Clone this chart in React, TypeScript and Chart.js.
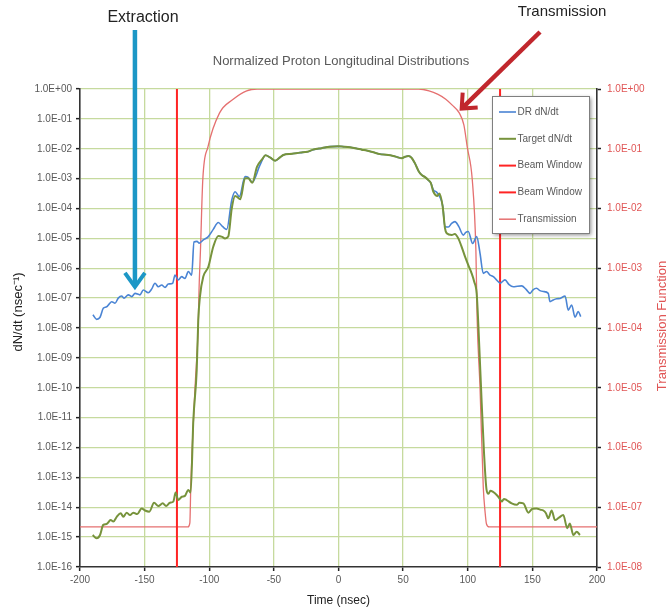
import React, { useEffect, useRef } from 'react';
import { Chart, registerables } from 'chart.js';

Chart.register(...registerables);

const FONT = '"Liberation Sans", Arial, sans-serif';

// ---------- data (series values given as log10) ----------
const drTime = [
  -190, -187.1, -184.5, -182, -179.4, -177.5, -175.5, -172.9, -170.4, -167.8, -166, -162.6, -160, -157.4,
  -153.6, -151, -147.2, -144.6, -142, -139.4, -136.8, -134.2, -131.7, -128.3, -126.5, -124, -121.3, -118.8,
  -116.2, -113.6, -111.8, -109.5, -107.7, -104.6, -100.7, -96.9, -93, -89.6, -86.5, -82.6, -80, -76.7,
  -72.3, -69.8, -66.8, -60.7, -56.5, -53, -49.1, -45, -42.7, -36, -29.8, -24, -19.5, -13, -6.6, 0, 3.7, 9,
  14, 18, 21.8, 27, 32.1, 37, 42.4, 45.5, 48.8, 51.5, 54, 56.5, 59.2, 62, 64.4, 67, 69.5, 71.5, 73.4, 75.9,
  78.5, 80.6, 82.4, 85, 87.5, 90.1, 93, 96.6, 98.5, 100.4, 103.8, 106.9, 109.5, 112, 114.6, 117, 119.8,
  122.5, 125, 128.8, 132, 135.3, 138.5, 141.7, 145, 148.2, 150.5, 153.3, 155.8, 158.5, 162.3, 163.6, 166.2,
  168.8, 171.4, 175.3, 177.8, 180.4, 183, 185.5, 187.4,
];
const drLog10 = [
  -7.56, -7.71, -7.64, -7.34, -7.29, -7.2, -7.12, -7.17, -7.0, -6.93, -7.0, -6.89, -6.95, -6.84,
  -6.89, -6.73, -6.82, -6.7, -6.5, -6.62, -6.56, -6.64, -6.53, -6.5, -6.23, -6.39, -6.28, -6.34,
  -6.11, -6.23, -5.12, -5.1, -5.16, -5.05, -4.94, -4.7, -4.47, -4.61, -4.7, -3.72, -3.44, -3.6,
  -2.93, -2.96, -3.12, -2.54, -2.22, -2.29, -2.4, -2.28, -2.21, -2.17, -2.13, -2.1, -2.03, -1.98, -1.93, -1.92, -1.93, -1.95,
  -1.99, -2.03, -2.06, -2.12, -2.18, -2.2, -2.24, -2.28, -2.32, -2.27, -2.24, -2.3, -2.49, -2.75, -2.88, -2.95, -3.05, -3.15, -3.38, -3.45,
  -3.62, -3.9, -4.6, -4.62, -4.5, -4.44, -4.6, -4.89, -4.8, -4.77, -5.17, -4.94, -5.5, -6.17, -6.11, -6.22, -6.28,
  -6.4, -6.5, -6.39, -6.55, -6.62, -6.6, -6.59, -6.7, -6.84, -6.72, -6.67, -6.75, -6.78, -6.84, -7.12, -7.06,
  -7.02, -7.01, -6.93, -7.4, -7.23, -7.64, -7.45, -7.62,
];

const targetTime = [
  -190.2, -187.1, -184.5, -182, -179.4, -176.3, -174.2, -171.6, -168.5, -166.5, -163.9, -161.3, -158.8,
  -155.7, -152.3, -149.7, -146.4, -142.7, -139.4, -136, -133.4, -130.4, -127.8, -126, -124, -121.3, -118.8,
  -116.2, -114.4, -112.3, -109.7, -108.5, -107.2, -104.6, -100.7, -96.9, -93, -90, -87.8, -85.3, -82.6,
  -80, -78.8, -76, -72.3, -69.8, -66.8, -63, -59, -56.5, -53, -49.1, -45, -42.7, -36, -29.8, -24, -19.5, -13,
  -6.6, 0, 3.7, 9, 14, 18, 21.8, 27, 32.1, 37, 42.4, 45.5, 48.8, 51.5, 54, 56.5, 59.2, 62, 64.4, 67, 69.5,
  71.5, 73.4, 76.5, 78, 80.6, 82.4, 83.7, 87.6, 90, 92.7, 95, 97.9, 100.5, 103, 105, 106.9, 108.2, 110.8,
  112.6, 114.5, 116, 117.5, 119.3, 122.4, 124.5, 126.3, 128, 130.1, 134, 137.9, 140, 143, 146.9, 150, 153.3,
  156, 158.5, 160.5, 162.3, 164.9, 167.5, 170.5, 173.9, 177, 179, 181.7, 184.3, 186.8,
];
const targetLog10 = [
  -14.93, -15.04, -14.93, -14.59, -14.56, -14.43, -14.48, -14.32, -14.2, -14.32, -14.18, -14.26, -14.18,
  -14.23, -14.04, -14.11, -14.15, -13.85, -13.96, -13.87, -13.96, -13.85, -13.81, -13.51, -13.76, -13.65, -13.62,
  -13.42, -13.51, -11.08, -9.41, -7.73, -6.95, -6.28, -5.95, -5.28, -4.92, -4.95, -5.0, -4.94, -4.0,
  -3.58, -3.6, -3.69, -2.99, -2.99, -3.14, -2.6, -2.35, -2.22, -2.29, -2.4, -2.28, -2.21, -2.17, -2.13, -2.1, -2.03, -1.98,
  -1.93, -1.92, -1.93, -1.95, -1.99, -2.03, -2.06, -2.12, -2.18, -2.2, -2.24, -2.28, -2.32, -2.27, -2.24, -2.3, -2.49, -2.75, -2.88, -2.95, -3.05,
  -3.15, -3.44, -3.58, -3.5, -3.94, -4.66, -4.83, -4.89, -4.85, -5.0, -5.25, -5.61, -5.9, -6.17, -6.45, -6.84, -7.9, -10.52,
  -12.19, -13.4, -13.55, -13.45, -13.48, -13.59, -13.7, -13.81, -13.72, -13.76, -13.87, -13.92, -13.85, -13.87, -14.18, -14.05, -14.04,
  -14.08, -14.11, -14.2, -14.37, -14.11, -14.43, -14.35, -14.26, -14.7, -14.54, -14.93, -14.82, -14.93,
];

const transmissionTime = [
  -200, -116.5, -115, -114.3, -111, -108.5, -107.9, -106.8, -105, -101, -92, -82, -71, -63,
  62, 70, 77, 83, 88, 93.4, 97, 99.6, 103.5, 106.3, 107.3, 109.5, 112, 113.5, 114.5, 116.6, 200,
];
const transmissionLog10 = [
  -7.33, -7.33, -7.26, -6.66, -5.0, -3.95, -3.36, -2.7, -1.52, -0.97, -0.4, -0.18, -0.03, 0,
  0, -0.03, -0.09, -0.17, -0.27, -0.4, -0.6, -0.97, -1.52, -2.7, -3.87, -5.0, -6.66, -7.1, -7.28, -7.33, -7.33,
];

const beamWindowTimes = [-125, 125];
const beamWindowSpan = [1, 1e-16];

const xTickValues = [-200, -150, -100, -50, 0, 50, 100, 150, 200];
const xTickLabels = ['-200', '-150', '-100', '-50', '0', '50', '100', '150', '200'];
const leftTickValues = [1, 1e-1, 1e-2, 1e-3, 1e-4, 1e-5, 1e-6, 1e-7, 1e-8, 1e-9, 1e-10, 1e-11, 1e-12, 1e-13, 1e-14, 1e-15, 1e-16];
const leftTickLabels = ['1.0E+00', '1.0E-01', '1.0E-02', '1.0E-03', '1.0E-04', '1.0E-05', '1.0E-06', '1.0E-07', '1.0E-08',
  '1.0E-09', '1.0E-10', '1.0E-11', '1.0E-12', '1.0E-13', '1.0E-14', '1.0E-15', '1.0E-16'];
const rightTickValues = [1, 1e-1, 1e-2, 1e-3, 1e-4, 1e-5, 1e-6, 1e-7, 1e-8];
const rightTickLabels = ['1.0E+00', '1.0E-01', '1.0E-02', '1.0E-03', '1.0E-04', '1.0E-05', '1.0E-06', '1.0E-07', '1.0E-08'];

const seriesNames = ['DR dN/dt', 'Target dN/dt', 'Beam Window', 'Beam Window', 'Transmission'];

// annotation anchors (data coordinates)
const extractionTip = { t: -157.5, v: 2.2e-7 };
const transmissionTip = { t: 95.3, v: 0.47 };

const COLORS = {
  dr: '#4a84d4',
  target: '#77933c',
  beam: '#ff2424',
  trans: '#e57070',
  grid: '#c6da9e',
  label: '#595959',
  rightLabel: '#e05555',
};

function toPoints(ts: number[], logs: number[]) {
  return ts.map((t, i) => ({ x: t, y: Math.pow(10, logs[i]) }));
}

const overlayPlugin = {
  id: 'overlay',
  afterDraw(chart: any) {
    const ctx: CanvasRenderingContext2D = chart.ctx;
    const ca = chart.chartArea;
    const x = chart.scales.x;
    const y = chart.scales.y;
    const y2 = chart.scales.y2;
    ctx.save();

    // title
    ctx.fillStyle = COLORS.label;
    ctx.font = `13px ${FONT}`;
    ctx.textAlign = 'center';
    ctx.textBaseline = 'middle';
    ctx.fillText('Normalized Proton Longitudinal Distributions', 341, 61);

    // x title
    ctx.fillStyle = '#222';
    ctx.font = `12px ${FONT}`;
    ctx.fillText('Time (nsec)', (ca.left + ca.right) / 2, 601);

    // left title
    ctx.save();
    ctx.translate(18, 312);
    ctx.rotate(-Math.PI / 2);
    ctx.fillStyle = '#222';
    ctx.font = `13px ${FONT}`;
    ctx.fillText('dN/dt (nsec\u207B\u00B9)', 0, 0);
    ctx.restore();

    // right title
    ctx.save();
    ctx.translate(662, 326);
    ctx.rotate(-Math.PI / 2);
    ctx.fillStyle = COLORS.rightLabel;
    ctx.font = `13px ${FONT}`;
    ctx.fillText('Transmission Function', 0, 0);
    ctx.restore();

    // legend box
    const bw = 97;
    const bh = 137;
    const bx = ca.right - 8 - bw;
    const by = ca.top + 7;
    ctx.save();
    ctx.shadowColor = 'rgba(0,0,0,0.45)';
    ctx.shadowBlur = 4;
    ctx.shadowOffsetX = 2;
    ctx.shadowOffsetY = 2;
    ctx.fillStyle = '#ffffff';
    ctx.fillRect(bx, by, bw, bh);
    ctx.restore();
    ctx.strokeStyle = '#7f7f7f';
    ctx.lineWidth = 1;
    ctx.strokeRect(bx + 0.5, by + 0.5, bw, bh);
    const ds = chart.data.datasets;
    ctx.font = `10px ${FONT}`;
    ctx.textAlign = 'left';
    ctx.textBaseline = 'middle';
    seriesNames.forEach((name, i) => {
      const cy = by + 16 + i * 26.8;
      ctx.strokeStyle = ds[i].borderColor;
      ctx.lineWidth = Math.max(1.5, ds[i].borderWidth);
      ctx.beginPath();
      ctx.moveTo(bx + 7, cy);
      ctx.lineTo(bx + 24, cy);
      ctx.stroke();
      ctx.fillStyle = COLORS.label;
      ctx.fillText(name, bx + 25.5, cy);
    });

    // Extraction annotation
    ctx.fillStyle = '#222';
    ctx.font = `16px ${FONT}`;
    ctx.textAlign = 'center';
    ctx.fillText('Extraction', 143, 18);
    const ex = x.getPixelForValue(extractionTip.t);
    const ey = y.getPixelForValue(extractionTip.v);
    ctx.strokeStyle = '#1c97c6';
    ctx.lineWidth = 4.5;
    ctx.lineCap = 'butt';
    ctx.beginPath();
    ctx.moveTo(ex, 30);
    ctx.lineTo(ex, ey - 3);
    ctx.stroke();
    ctx.lineWidth = 4;
    ctx.lineJoin = 'miter';
    ctx.beginPath();
    ctx.moveTo(ex - 10, ey - 15);
    ctx.lineTo(ex, ey - 1);
    ctx.lineTo(ex + 10, ey - 15);
    ctx.stroke();

    // Transmission annotation
    ctx.fillStyle = '#222';
    ctx.font = `15px ${FONT}`;
    ctx.fillText('Transmission', 562, 12);
    const tx = x.getPixelForValue(transmissionTip.t);
    const ty = y2.getPixelForValue(transmissionTip.v);
    ctx.strokeStyle = '#c1272d';
    ctx.lineWidth = 4.5;
    ctx.beginPath();
    ctx.moveTo(540, 32);
    ctx.lineTo(tx + 2, ty - 2);
    ctx.stroke();
    ctx.lineWidth = 4;
    ctx.beginPath();
    ctx.moveTo(tx + 1, ty - 16);
    ctx.lineTo(tx, ty);
    ctx.lineTo(tx + 16, ty - 1);
    ctx.stroke();

    ctx.restore();
  },
};

export default function App() {
  const ref = useRef<HTMLCanvasElement | null>(null);

  useEffect(() => {
    document.body.style.margin = '0';
    document.body.style.background = '#ffffff';
    const canvas = ref.current;
    if (!canvas) return;

    const tickFont = { family: FONT, size: 10 };
    const chart = new Chart(canvas, {
      type: 'line',
      data: {
        datasets: [
          {
            label: seriesNames[0],
            data: toPoints(drTime, drLog10),
            borderColor: COLORS.dr,
            borderWidth: 1.6,
            pointRadius: 0,
            yAxisID: 'y',
            cubicInterpolationMode: 'monotone',
            order: 1,
          },
          {
            label: seriesNames[1],
            data: toPoints(targetTime, targetLog10),
            borderColor: COLORS.target,
            borderWidth: 2,
            pointRadius: 0,
            yAxisID: 'y',
            cubicInterpolationMode: 'monotone',
            order: 0,
          },
          {
            label: seriesNames[2],
            data: beamWindowSpan.map((v) => ({ x: beamWindowTimes[0], y: v })),
            borderColor: COLORS.beam,
            borderWidth: 2,
            pointRadius: 0,
            yAxisID: 'y',
            tension: 0,
            order: 2,
          },
          {
            label: seriesNames[3],
            data: beamWindowSpan.map((v) => ({ x: beamWindowTimes[1], y: v })),
            borderColor: COLORS.beam,
            borderWidth: 2,
            pointRadius: 0,
            yAxisID: 'y',
            tension: 0,
            order: 2,
          },
          {
            label: seriesNames[4],
            data: toPoints(transmissionTime, transmissionLog10),
            borderColor: COLORS.trans,
            borderWidth: 1.3,
            pointRadius: 0,
            yAxisID: 'y2',
            cubicInterpolationMode: 'monotone',
            order: 3,
          },
        ],
      } as any,
      options: {
        animation: false,
        responsive: false,
        maintainAspectRatio: false,
        layout: { padding: { top: 89, left: 0, right: 0, bottom: 0 } },
        plugins: {
          legend: { display: false },
          title: { display: false },
          tooltip: { enabled: false },
        },
        scales: {
          x: {
            type: 'linear',
            min: -200,
            max: 200,
            afterBuildTicks: (s: any) => {
              s.ticks = xTickValues.map((v) => ({ value: v }));
            },
            ticks: {
              color: COLORS.label,
              font: tickFont,
              padding: 3,
              maxRotation: 0,
              autoSkip: false,
              callback: (v: any) => xTickLabels[xTickValues.indexOf(Number(v))],
            },
            grid: {
              color: (c: any) =>
                c.tick && (c.tick.value === -200 || c.tick.value === 200) ? 'rgba(0,0,0,0)' : COLORS.grid,
              lineWidth: 1.3,
              tickColor: '#222',
              tickWidth: 1.5,
              tickLength: 4,
            },
            border: { color: '#333', width: 1.6 },
            afterFit: (s: any) => {
              s.height = 46;
            },
          },
          y: {
            type: 'logarithmic',
            position: 'left',
            min: 1e-16,
            max: 1,
            afterBuildTicks: (s: any) => {
              s.ticks = leftTickValues.slice().reverse().map((v) => ({ value: v }));
            },
            ticks: {
              color: COLORS.label,
              font: tickFont,
              padding: 4,
              autoSkip: false,
              callback: (v: any) => leftTickLabels[leftTickValues.indexOf(Number(v))],
            },
            grid: {
              color: (c: any) => (c.tick && c.tick.value === 1e-16 ? 'rgba(0,0,0,0)' : COLORS.grid),
              lineWidth: 1.3,
              tickColor: '#222',
              tickWidth: 1.5,
              tickLength: 4,
            },
            border: { color: '#333', width: 1.6 },
            afterFit: (s: any) => {
              s.width = 80;
            },
          },
          y2: {
            type: 'logarithmic',
            position: 'right',
            min: 1e-8,
            max: 1,
            afterBuildTicks: (s: any) => {
              s.ticks = rightTickValues.slice().reverse().map((v) => ({ value: v }));
            },
            ticks: {
              color: COLORS.rightLabel,
              font: tickFont,
              padding: 6,
              autoSkip: false,
              callback: (v: any) => rightTickLabels[rightTickValues.indexOf(Number(v))],
            },
            grid: {
              drawOnChartArea: false,
              tickColor: '#222',
              tickWidth: 1.5,
              tickLength: 4,
            },
            border: { color: '#333', width: 1.6 },
            afterFit: (s: any) => {
              s.width = 72;
            },
          },
        },
      } as any,
      plugins: [overlayPlugin],
    });

    return () => {
      chart.destroy();
    };
  }, []);

  return (
    <div style={{ width: 669, height: 613, background: '#ffffff' }}>
      <canvas ref={ref} width={669} height={613} style={{ display: 'block' }} />
    </div>
  );
}
